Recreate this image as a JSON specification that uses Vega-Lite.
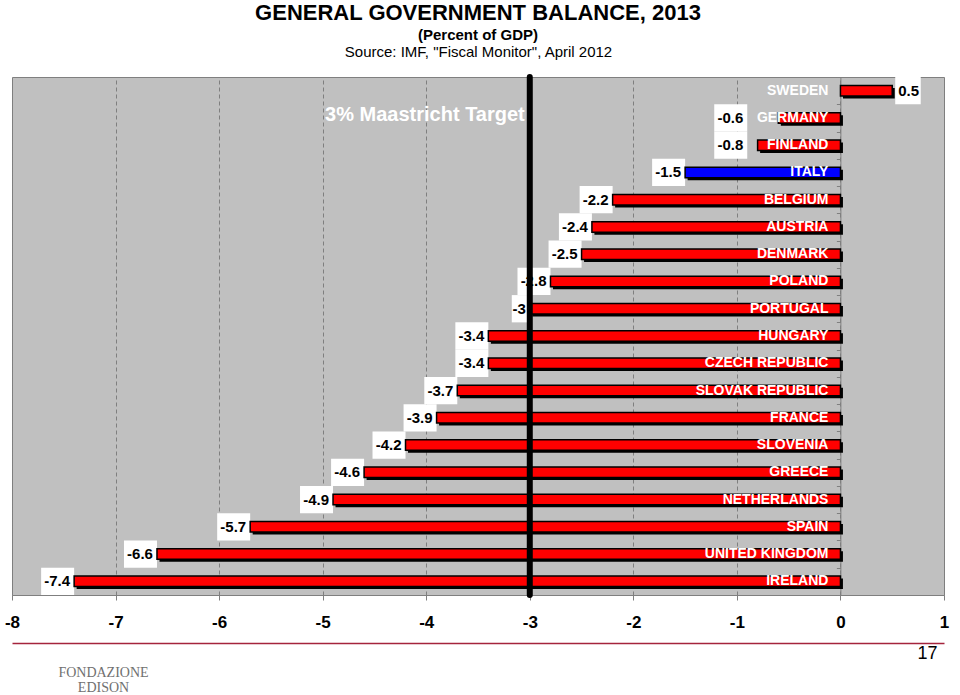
{
  "$schema": "https://vega.github.io/schema/vega-lite/v6.json",
  "width": 932,
  "height": 518,
  "autosize": {"type": "none"},
  "padding": {"left": 12, "top": 77, "right": 16, "bottom": 100},
  "background": "white",
  "title": {
    "text": "GENERAL GOVERNMENT BALANCE, 2013",
    "subtitle": "(Percent of GDP)",
    "anchor": "middle",
    "frame": "group",
    "font": "Liberation Sans",
    "fontSize": 22,
    "fontWeight": "bold",
    "color": "black",
    "subtitleFont": "Liberation Sans",
    "subtitleFontSize": 15,
    "subtitleFontWeight": "bold",
    "subtitleColor": "black",
    "subtitlePadding": 3,
    "offset": 0
  },
  "data": {
    "values": [
      {"country": "SWEDEN", "value": 0.5},
      {"country": "GERMANY", "value": -0.6},
      {"country": "FINLAND", "value": -0.8},
      {"country": "ITALY", "value": -1.5},
      {"country": "BELGIUM", "value": -2.2},
      {"country": "AUSTRIA", "value": -2.4},
      {"country": "DENMARK", "value": -2.5},
      {"country": "POLAND", "value": -2.8},
      {"country": "PORTUGAL", "value": -3},
      {"country": "HUNGARY", "value": -3.4},
      {"country": "CZECH REPUBLIC", "value": -3.4},
      {"country": "SLOVAK REPUBLIC", "value": -3.7},
      {"country": "FRANCE", "value": -3.9},
      {"country": "SLOVENIA", "value": -4.2},
      {"country": "GREECE", "value": -4.6},
      {"country": "NETHERLANDS", "value": -4.9},
      {"country": "SPAIN", "value": -5.7},
      {"country": "UNITED KINGDOM", "value": -6.6},
      {"country": "IRELAND", "value": -7.4}
    ]
  },
  "layer": [
    {
      "layer": [
        {
          "transform": [{"filter": "datum.value < 0"}],
          "mark": {
            "type": "bar",
            "color": "white",
            "height": {"band": 1},
            "xOffset": {"expr": "datum.value > -0.9 ? -(datum.value + 0.9) * 103.56 : 0"},
            "x2Offset": {"expr": "(datum.value > -0.9 ? -(datum.value + 0.9) * 103.56 : 0) - (3 + 7.5*length(format(datum.value, '.1~f')))"}
          },
          "encoding": {
            "x": {
              "field": "value",
              "type": "quantitative",
              "scale": {"domain": [-8, 1], "nice": false, "zero": false},
              "axis": {
                "values": [-8, -7, -6, -5, -4, -3, -2, -1, 0, 1],
                "grid": true,
                "gridColor": "#7f7f7f",
                "gridDash": [4, 3],
                "gridWidth": 1,
                "domain": false,
                "tickColor": "#7f7f7f",
                "tickSize": 5,
                "labelFont": "Liberation Sans",
                "labelFontSize": 17,
                "labelFontWeight": "bold",
                "labelColor": "black",
                "labelPadding": 14,
                "labelFlush": false,
                "format": "d",
                "title": "17",
                "titleFont": "Liberation Sans",
                "titleFontSize": 18,
                "titleFontWeight": "normal",
                "titleColor": "black",
                "titleX": 925,
                "titleY": 49,
                "titleAlign": "right",
                "titleBaseline": "top"
              }
            },
            "x2": {"field": "value"},
            "y": {
              "field": "country",
              "type": "nominal",
              "sort": null,
              "scale": {
                "domain": ["SWEDEN", "GERMANY", "FINLAND", "ITALY", "BELGIUM", "AUSTRIA", "DENMARK", "POLAND", "PORTUGAL", "HUNGARY", "CZECH REPUBLIC", "SLOVAK REPUBLIC", "FRANCE", "SLOVENIA", "GREECE", "NETHERLANDS", "SPAIN", "UNITED KINGDOM", "IRELAND"],
                "paddingInner": 0,
                "paddingOuter": 0
              },
              "axis": {
                "orient": "left",
                "offset": -828.4,
                "labels": false,
                "title": null,
                "grid": false,
                "domainColor": "#7f7f7f",
                "tickColor": "#7f7f7f",
                "tickSize": 4,
                "tickBand": "extent"
              }
            }
          }
        },
        {
          "transform": [{"filter": "datum.value > 0"}],
          "mark": {"type": "bar", "color": "white", "height": {"band": 1}, "xOffset": 3, "x2Offset": {"expr": "3 + 3 + 7.5*length(format(datum.value, '.1~f'))"}},
          "encoding": {
            "x": {"field": "value", "type": "quantitative"},
            "x2": {"field": "value"},
            "y": {"field": "country", "type": "nominal", "sort": null}
          }
        },
        {
          "mark": {"type": "bar", "color": "black", "height": 10.5, "xOffset": 2.5, "x2Offset": 2.5, "yOffset": 2.5},
          "encoding": {
            "x": {"field": "value", "type": "quantitative"},
            "x2": {"datum": 0},
            "y": {"field": "country", "type": "nominal", "sort": null}
          }
        },
        {
          "mark": {"type": "bar", "height": 10.5, "stroke": "black", "strokeWidth": 1.5},
          "encoding": {
            "x": {"field": "value", "type": "quantitative"},
            "x2": {"datum": 0},
            "y": {"field": "country", "type": "nominal", "sort": null},
            "color": {"condition": {"test": "datum.country === 'ITALY'", "value": "#0000ff"}, "value": "#ff0000"}
          }
        },
        {
          "transform": [{"filter": "datum.value < 0"}],
          "mark": {
            "type": "text",
            "align": "right",
            "dx": {"expr": "(datum.value > -0.9 ? -(datum.value + 0.9) * 103.56 : 0) - 4"},
            "font": "Liberation Sans",
            "fontSize": 15,
            "fontWeight": "bold",
            "color": "black"
          },
          "encoding": {
            "x": {"field": "value", "type": "quantitative"},
            "y": {"field": "country", "type": "nominal", "sort": null},
            "text": {"field": "value", "type": "quantitative", "format": ".1~f"}
          }
        },
        {
          "transform": [{"filter": "datum.value > 0"}],
          "mark": {"type": "text", "align": "left", "dx": 6, "font": "Liberation Sans", "fontSize": 15, "fontWeight": "bold", "color": "black"},
          "encoding": {
            "x": {"field": "value", "type": "quantitative"},
            "y": {"field": "country", "type": "nominal", "sort": null},
            "text": {"field": "value", "type": "quantitative", "format": ".1~f"}
          }
        },
        {
          "mark": {"type": "text", "align": "right", "dx": -12, "font": "Liberation Sans", "fontSize": 14, "fontWeight": "bold", "color": "white"},
          "encoding": {
            "x": {"datum": 0},
            "y": {"field": "country", "type": "nominal", "sort": null},
            "text": {"field": "country", "type": "nominal"}
          }
        }
      ]
    },
    {
      "data": {"values": [{}]},
      "mark": {"type": "rule", "color": "black", "strokeWidth": 6, "strokeCap": "round"},
      "encoding": {
        "x": {
          "datum": -3,
          "type": "quantitative",
          "scale": {"domain": [-8, 1], "nice": false, "zero": false},
          "axis": {
            "orient": "bottom",
            "offset": 48,
            "domainColor": "#a5243c",
            "domainWidth": 1.5,
            "ticks": false,
            "labels": false,
            "grid": false,
            "title": ["FONDAZIONE", "EDISON"],
            "titleFont": "Liberation Serif",
            "titleFontSize": 14,
            "titleFontWeight": "normal",
            "titleColor": "#707070",
            "titleX": 91,
            "titleY": 33,
            "titleAlign": "center",
            "titleBaseline": "alphabetic",
            "titleLineHeight": 15
          }
        }
      }
    },
    {
      "data": {"values": [{}]},
      "mark": {"type": "text", "align": "right", "dx": -5, "dy": -3, "font": "Liberation Sans", "fontSize": 20, "fontWeight": "bold", "color": "white", "text": "3% Maastricht Target"},
      "encoding": {
        "x": {
          "datum": -3,
          "type": "quantitative",
          "scale": {"domain": [-8, 1], "nice": false, "zero": false},
          "axis": {
            "orient": "top",
            "domain": false,
            "ticks": false,
            "labels": false,
            "grid": false,
            "title": "Source: IMF, \"Fiscal Monitor\", April 2012",
            "titleFont": "Liberation Sans",
            "titleFontSize": 15,
            "titleFontWeight": "normal",
            "titleColor": "black",
            "titleBaseline": "alphabetic",
            "titleY": -21
          }
        },
        "y": {"datum": "GERMANY", "type": "nominal"}
      }
    }
  ],
  "resolve": {"axis": {"x": "independent"}},
  "config": {
    "font": "Liberation Sans",
    "view": {"fill": "#c0c0c0", "stroke": "#7f7f7f", "strokeWidth": 1},
    "locale": {"number": {"decimal": ".", "thousands": ",", "grouping": [3], "currency": ["$", ""], "minus": "-"}}
  }
}
